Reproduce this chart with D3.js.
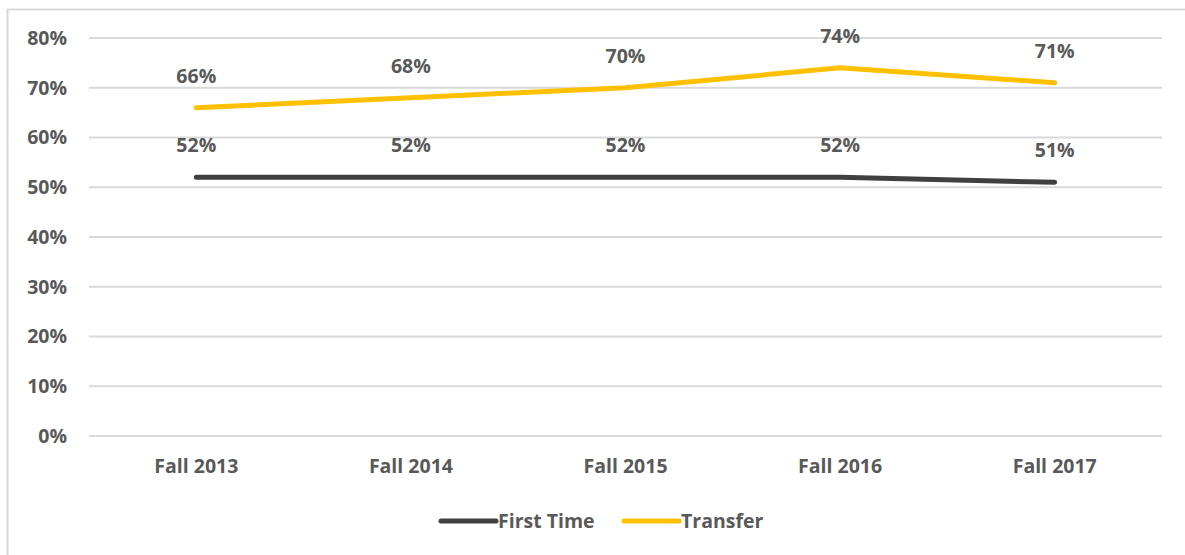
<!DOCTYPE html>
<html>
<head>
<meta charset="utf-8">
<script src="https://cdn.jsdelivr.net/npm/d3@7"></script>
<style>
  body { margin: 0; background: #fff; }
  text { font-family: "Open Sans", "Noto Sans", sans-serif; font-weight: bold; fill: #595959; }
</style>
</head>
<body>
<div id="chart"></div>
<script>
var categories = ["Fall 2013", "Fall 2014", "Fall 2015", "Fall 2016", "Fall 2017"];
var firstTime = [52, 52, 52, 52, 51];
var transfer = [66, 68, 70, 74, 71];
var yTicks = [0, 10, 20, 30, 40, 50, 60, 70, 80];

var w = 1185;
var h = 555;
var plotLeft = 89, plotRight = 1162, plotTop = 38, plotBottom = 436;
var fontSize = "19.5px";

var series = [
    {name: "First Time", values: firstTime, color: "#404040"},
    {name: "Transfer", values: transfer, color: "#FFC000"}
];

var svg = d3.select("#chart")
    .append("svg")
    .attr("width", w)
    .attr("height", h);

// outer border
svg.append("rect")
    .attr("x", 7.5)
    .attr("y", 9.5)
    .attr("width", w + 10)
    .attr("height", h + 10)
    .attr("fill", "none")
    .attr("stroke", "#d9d9d9")
    .attr("stroke-width", 2);

var xScale = d3.scaleBand()
    .domain(categories)
    .range([plotLeft, plotRight]);

var yScale = d3.scaleLinear()
    .domain([0, 80])
    .range([plotBottom, plotTop]);

//// GRIDLINES ////
svg.selectAll(".grid")
    .data(yTicks)
    .enter()
    .append("line")
    .attr("x1", plotLeft)
    .attr("x2", plotRight)
    .attr("y1", function(d) { return yScale(d); })
    .attr("y2", function(d) { return yScale(d); })
    .attr("stroke", "#d9d9d9")
    .attr("stroke-width", 2);

//// AXES ////
var yAxis = d3.axisLeft(yScale)
    .tickValues(yTicks)
    .tickSize(0)
    .tickPadding(0)
    .tickFormat(function(d) { return d + "%"; });

var gy = svg.append("g")
    .attr("transform", "translate(67,0)")
    .call(yAxis);
gy.select(".domain").remove();
gy.selectAll("text").style("font-size", fontSize).attr("fill", "#595959");

var xAxis = d3.axisBottom(xScale).tickSize(0).tickPadding(0);
var gx = svg.append("g")
    .attr("transform", "translate(0," + (plotBottom + 23) + ")")
    .call(xAxis);
gx.select(".domain").remove();
gx.selectAll("text").style("font-size", fontSize).attr("fill", "#595959");

//// LINES ////
var line = d3.line()
    .x(function(d, i) { return xScale(categories[i]) + xScale.bandwidth() / 2; })
    .y(function(d) { return yScale(d); });

series.forEach(function(s) {
    svg.append("path")
        .datum(s.values)
        .attr("d", line)
        .attr("fill", "none")
        .attr("stroke", s.color)
        .attr("stroke-width", 5)
        .attr("stroke-linecap", "round")
        .attr("stroke-linejoin", "round");

    svg.selectAll(".lbl-" + s.name.replace(" ", ""))
        .data(s.values)
        .enter()
        .append("text")
        .attr("x", function(d, i) { return xScale(categories[i]) + xScale.bandwidth() / 2; })
        .attr("y", function(d) { return yScale(d) - 25; })
        .attr("text-anchor", "middle")
        .style("font-size", fontSize)
        .text(function(d) { return d + "%"; });
});

//// LEGEND ////
var legendX = [441, 624];
series.forEach(function(s, i) {
    var g = svg.append("g").attr("transform", "translate(" + legendX[i] + ",521)");
    g.append("line")
        .attr("x1", 0).attr("x2", 55)
        .attr("stroke", s.color)
        .attr("stroke-width", 5)
        .attr("stroke-linecap", "round");
    g.append("text")
        .attr("x", 57)
        .attr("dy", "0.35em")
        .style("font-size", fontSize)
        .text(s.name);
});
</script>
</body>
</html>
